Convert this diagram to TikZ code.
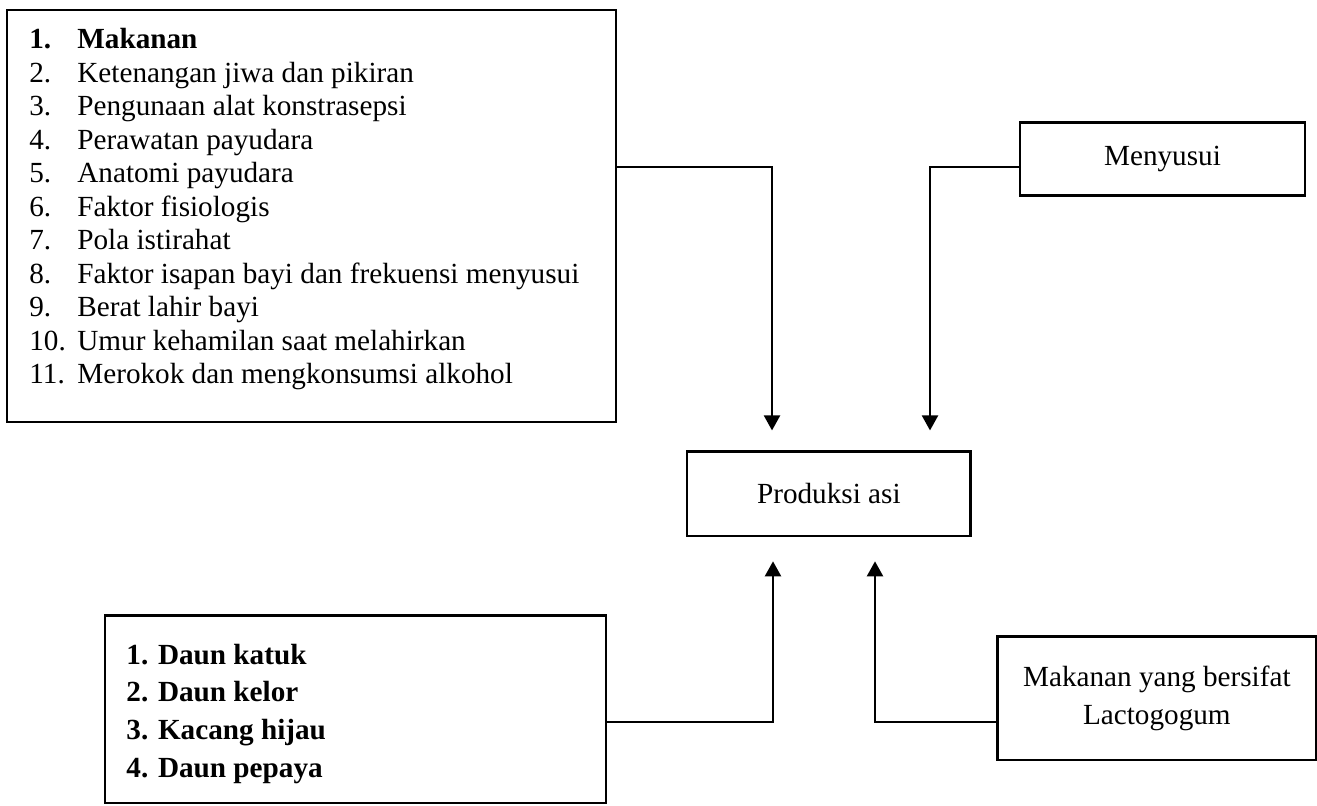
\documentclass[tikz,border=0pt]{standalone}
\usepackage{fontspec}
\setmainfont{Liberation Serif}
\usetikzlibrary{arrows.meta,positioning,calc}

\begin{document}
\begin{tikzpicture}[
    x=0.5pt, y=-0.5pt,
    frame/.style={draw, line width=1.3pt, inner sep=0pt, align=center,
        font=\fontsize{14.6pt}{19.15pt}\selectfont},
    listtext/.style={anchor=north west, inner sep=0pt, align=left},
    feed/.style={->, line width=1.1pt},
    >={Triangle[width=8pt,length=7.5pt]}
]
    \useasboundingbox (0,0) rectangle (1317,805);

    % boxes
    \node[frame, minimum width=304.5pt, minimum height=206pt] (factors) at (311.5,216) {};
    \node[frame, minimum width=142.5pt, minimum height=36.7pt] (menyusui) at (1162.5,159) {Menyusui};
    \node[frame, minimum width=141.85pt, minimum height=42.15pt] (prod) at (828.85,493.85) {Produksi asi};
    \node[frame, minimum width=250.5pt, minimum height=93.65pt] (herbs) at (355.5,709.35) {};
    \node[frame, minimum width=159.15pt, minimum height=61.65pt] (lacto) at (1156.85,698.35) {Makanan yang bersifat\\Lactogogum};

    % list texts
    \node[listtext, font=\fontsize{14.6pt}{16.75pt}\selectfont] (factorlist) at (29,28.1) {%
        \textbf{\makebox[24pt][l]{1.}Makanan}\\
        \makebox[24pt][l]{2.}Ketenangan jiwa dan pikiran\\
        \makebox[24pt][l]{3.}Pengunaan alat konstrasepsi\\
        \makebox[24pt][l]{4.}Perawatan payudara\\
        \makebox[24pt][l]{5.}Anatomi payudara\\
        \makebox[24pt][l]{6.}Faktor fisiologis\\
        \makebox[24pt][l]{7.}Pola istirahat\\
        \makebox[24pt][l]{8.}Faktor isapan bayi dan frekuensi menyusui\\
        \makebox[24pt][l]{9.}Berat lahir bayi\\
        \makebox[24pt][l]{10.}Umur kehamilan saat melahirkan\\
        \makebox[24pt][l]{11.}Merokok dan mengkonsumsi alkohol};
    \node[listtext, font=\fontsize{14.6pt}{18.9pt}\selectfont\bfseries] (herblist) at (126,643.4) {%
        1. Daun katuk\\
        2. Daun kelor\\
        3. Kacang hijau\\
        4. Daun pepaya};

    % connectors
    \coordinate (j1) at (772,166.7);
    \coordinate (j2) at (930,166.7);
    \coordinate (j3) at (773,722.3);
    \coordinate (j4) at (875,722.3);
    \draw[feed, shorten >=10pt] (factors.east |- j1) -| (j1 |- prod.north);
    \draw[feed, shorten >=10pt] (menyusui.west |- j2) -| (j2 |- prod.north);
    \draw[feed, shorten >=12pt] (herbs.east |- j3) -| (j3 |- prod.south);
    \draw[feed, shorten >=12pt] (lacto.west |- j4) -| (j4 |- prod.south);
\end{tikzpicture}
\end{document}
